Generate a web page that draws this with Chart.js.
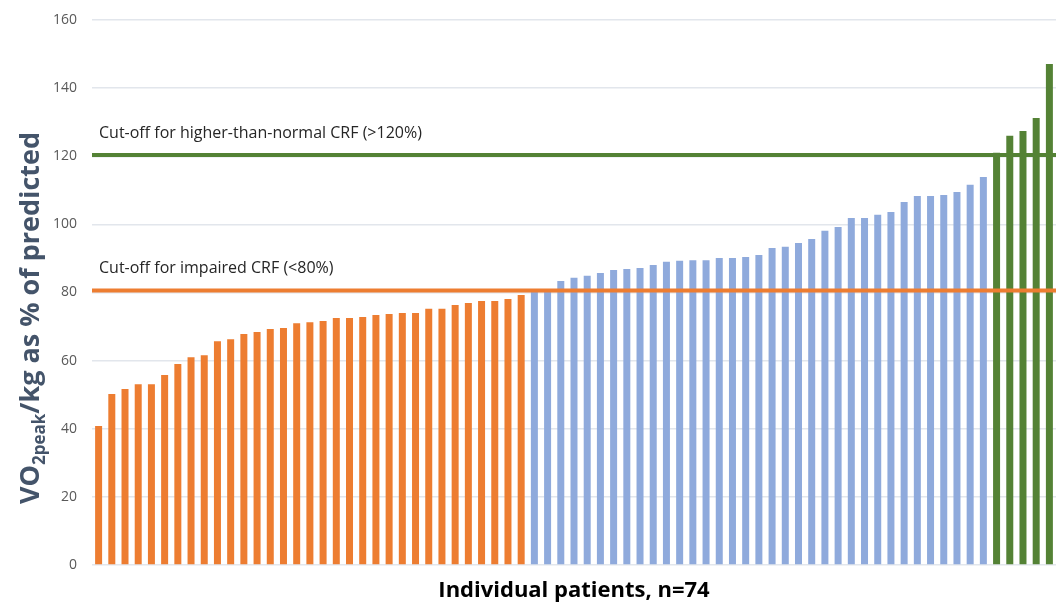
<!DOCTYPE html>
<html>
<head>
<meta charset="utf-8">
<script src="https://cdn.jsdelivr.net/npm/chart.js@4.4.1/dist/chart.umd.min.js"></script>
<style>
  html, body { margin: 0; padding: 0; background: #fff; }
  #wrap { width: 1056px; height: 604px; }
</style>
</head>
<body>
<div id="wrap"><canvas id="crfChart"></canvas></div>
<script>
// VO2peak/kg as % of predicted, sorted, one bar per patient
const impaired = [40.8, 50.2, 51.7, 53.1, 53.1, 55.8, 59.0, 61.0, 61.6, 65.7, 66.3, 67.8, 68.4,
    69.3, 69.6, 71.0, 71.3, 71.6, 72.5, 72.5, 72.8, 73.4, 73.7, 74.0, 74.0, 75.2, 75.2, 76.3,
    76.9, 77.5, 77.5, 78.1, 79.3];
const normal = [80.5, 81.0, 83.4, 84.3, 84.9, 85.7, 86.6, 86.9, 87.2, 88.1, 89.0, 89.3, 89.5,
    89.5, 90.1, 90.1, 90.4, 91.0, 93.1, 93.4, 94.5, 95.7, 98.1, 99.2, 101.9, 101.9, 102.8,
    103.6, 106.6, 108.3, 108.3, 108.6, 109.5, 111.6, 113.9];
const higher = [121.0, 126.0, 127.4, 131.2, 147.1];

const cutoffs = [80.6, 120.4];
const cutoffLabels = ['Cut-off for impaired CRF (<80%)', 'Cut-off for higher-than-normal CRF (>120%)'];
const yTicks = [0, 20, 40, 60, 80, 100, 120, 140, 160];

const ORANGE = '#ED7D31';
const BLUE = '#8FAADC';
const GREEN = '#548235';

const values = impaired.concat(normal, higher);
const labels = values.map((v, i) => String(i + 1));
const colors = impaired.map(() => ORANGE)
    .concat(normal.map(() => BLUE), higher.map(() => GREEN));

// cut-off lines and their captions, placed with the y scale
const cutoffPlugin = {
    id: 'cutoffs',
    afterDatasetsDraw(chart) {
        const {ctx, chartArea, scales} = chart;
        const lineColors = [ORANGE, GREEN];
        ctx.save();
        cutoffs.forEach((c, i) => {
            const y = scales.y.getPixelForValue(c);
            ctx.strokeStyle = lineColors[i];
            ctx.lineWidth = 4;
            ctx.beginPath();
            ctx.moveTo(chartArea.left, y);
            ctx.lineTo(chartArea.right, y);
            ctx.stroke();
            ctx.fillStyle = '#262626';
            ctx.font = '16px "Open Sans"';
            ctx.textBaseline = 'alphabetic';
            ctx.fillText(cutoffLabels[i], chartArea.left + 7, y - 17);
        });
        ctx.restore();
    }
};

// rotated y title with subscript
const yTitlePlugin = {
    id: 'yTitle',
    afterDraw(chart) {
        const {ctx} = chart;
        const parts = [
            {t: 'VO', f: 'bold 27px "Open Sans"', dy: 0},
            {t: '2peak', f: 'bold 17px "Open Sans"', dy: 6},
            {t: '/kg as % of predicted', f: 'bold 27px "Open Sans"', dy: 0}
        ];
        let total = 0;
        parts.forEach(p => { ctx.font = p.f; p.w = ctx.measureText(p.t).width; total += p.w; });
        ctx.save();
        ctx.translate(39, 318);
        ctx.rotate(-Math.PI / 2);
        ctx.fillStyle = '#44546A';
        ctx.textBaseline = 'alphabetic';
        let x = -total / 2;
        parts.forEach(p => {
            ctx.font = p.f;
            ctx.fillText(p.t, x, p.dy);
            x += p.w;
        });
        ctx.restore();
    }
};

new Chart(document.getElementById('crfChart').getContext('2d'), {
    type: 'bar',
    data: {
        labels: labels,
        datasets: [{
            data: values,
            backgroundColor: colors,
            borderWidth: 0,
            categoryPercentage: 1,
            barPercentage: 0.53
        }]
    },
    options: {
        responsive: true,
        maintainAspectRatio: false,
        animation: false,
        layout: {padding: {top: 20, left: 0, right: 0, bottom: 0}},
        plugins: {
            legend: {display: false},
            tooltip: {enabled: false}
        },
        scales: {
            x: {
                grid: {display: false, drawTicks: false},
                border: {display: false},
                ticks: {display: false},
                title: {
                    display: true,
                    text: 'Individual patients, n=74',
                    color: '#000',
                    font: {family: 'Open Sans', size: 22, weight: 'bold'},
                    padding: {top: 0, bottom: 0}
                },
                afterFit(scale) { scale.height = 39; }
            },
            y: {
                min: 0,
                max: 160,
                afterBuildTicks(scale) { scale.ticks = yTicks.map(v => ({value: v})); },
                grid: {color: '#E2E6EC', lineWidth: 1.5, drawTicks: false},
                border: {display: false},
                ticks: {
                    color: '#595959',
                    padding: 15,
                    font: {family: 'Open Sans', size: 14}
                },
                afterFit(scale) {
                    scale.width = 92;
                    scale.paddingTop = 0;
                    scale.paddingBottom = 0;
                }
            }
        }
    },
    plugins: [cutoffPlugin, yTitlePlugin]
});
</script>
</body>
</html>
